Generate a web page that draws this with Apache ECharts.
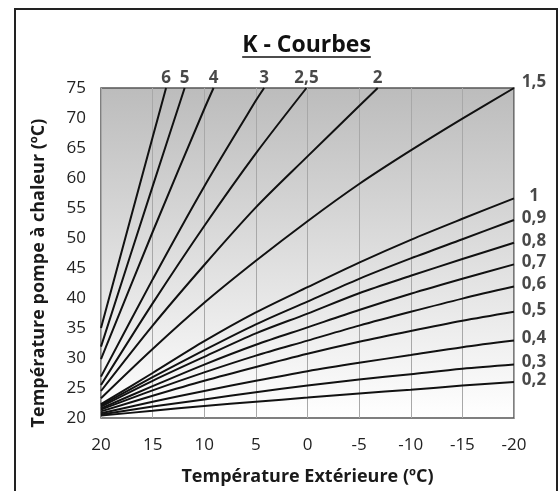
<!DOCTYPE html>
<html>
<head>
<meta charset="utf-8">
<script src="https://cdn.jsdelivr.net/npm/echarts@6/dist/echarts.min.js"></script>
<style>
html,body{margin:0;padding:0;background:#fff;}
#chart{width:559px;height:491px;}
</style>
</head>
<body>
<div id="chart"></div>
<script>
// ---- data (outdoor temp °C, flow temp °C) ----
const curveNames = ['6', '5', '4', '3', '2,5', '2', '1,5', '1', '0,9', '0,8', '0,7', '0,6', '0,5', '0,4', '0,3', '0,2'];

const k6  = [[20, 35.0], [15, 66.8], [13.7, 75]];
const k5  = [[20, 31.9], [15, 58.6], [11.9, 75]];
const k4  = [[20, 29.8], [15, 51.0], [10, 71.5], [9.1, 75]];
const k3  = [[20, 26.9], [15, 43.1], [10, 58.6], [5, 72.9], [4.2, 75]];
const k25 = [[20, 25.5], [15, 39.1], [10, 52.0], [5, 64.1], [0.1, 75]];
const k2  = [[20, 24.5], [15, 35.4], [10, 45.5], [5, 55.1], [0, 63.6], [-5, 72.0], [-6.8, 75]];
const k15 = [[20, 23.3], [15, 31.5], [10, 39.2], [5, 46.2], [0, 52.8], [-5, 59.0], [-10, 64.6], [-15, 69.9], [-20, 75]];
const k1  = [[20, 22.3], [15, 27.5], [10, 32.8], [5, 37.6], [0, 41.8], [-5, 45.9], [-10, 49.7], [-15, 53.2], [-20, 56.6]];
const k09 = [[20, 22.1], [15, 26.8], [10, 31.3], [5, 35.6], [0, 39.4], [-5, 43.2], [-10, 46.6], [-15, 49.8], [-20, 53.0]];
const k08 = [[20, 21.9], [15, 26.2], [10, 30.2], [5, 34.1], [0, 37.4], [-5, 40.8], [-10, 43.7], [-15, 46.5], [-20, 49.2]];
const k07 = [[20, 21.6], [15, 25.3], [10, 28.9], [5, 32.2], [0, 35.1], [-5, 38.0], [-10, 40.7], [-15, 43.2], [-20, 45.6]];
const k06 = [[20, 21.4], [15, 24.6], [10, 27.6], [5, 30.4], [0, 32.9], [-5, 35.4], [-10, 37.7], [-15, 39.9], [-20, 41.9]];
const k05 = [[20, 21.1], [15, 23.7], [10, 26.2], [5, 28.5], [0, 30.7], [-5, 32.7], [-10, 34.5], [-15, 36.2], [-20, 37.7]];
const k04 = [[20, 20.8], [15, 22.7], [10, 24.5], [5, 26.2], [0, 27.8], [-5, 29.2], [-10, 30.5], [-15, 31.8], [-20, 32.9]];
const k03 = [[20, 20.6], [15, 21.9], [10, 23.1], [5, 24.3], [0, 25.4], [-5, 26.4], [-10, 27.3], [-15, 28.2], [-20, 28.9]];
const k02 = [[20, 20.4], [15, 21.2], [10, 22.0], [5, 22.7], [0, 23.4], [-5, 24.1], [-10, 24.7], [-15, 25.4], [-20, 26.0]];

const curves = [k6, k5, k4, k3, k25, k2, k15, k1, k09, k08, k07, k06, k05, k04, k03, k02];

const xMin = -20, xMax = 20, xStep = 5;
const yMin = 20, yMax = 75, yStep = 5;

const titleText = 'K - Courbes';
const xName = 'Température Extérieure (ºC)';
const yName = 'Température pompe à chaleur (ºC)';

// ---- build chart ----
const FONT = 'Open Sans';
const TITLE_SIZE = 23;
const chart = echarts.init(document.getElementById('chart'), null, {renderer: 'canvas'});

const lineSeries = curves.map((pts, i) => ({
  name: curveNames[i],
  type: 'line',
  data: pts,
  showSymbol: false,
  smooth: 0.3,
  silent: true,
  lineStyle: {color: '#111', width: 2},
  z: 3
}));

// label anchors = last point of each curve
const topLabels = [];
const rightLabels = [];
curves.forEach((pts, i) => {
  const last = pts[pts.length - 1];
  const item = {value: last, name: curveNames[i]};
  if (last[1] >= yMax && last[0] > xMin) {
    topLabels.push(item);
  } else {
    if (last[1] >= yMax) item.label = {position: [20, -6]};
    rightLabels.push(item);
  }
});

const labelFont = {fontFamily: FONT, fontWeight: 'bold', fontSize: 17, color: '#1a1a1a'};

const ctx = document.createElement('canvas').getContext('2d');
ctx.font = 'bold ' + TITLE_SIZE + 'px "' + FONT + '"';
const tw = ctx.measureText(titleText).width;

const option = {
  animation: false,
  backgroundColor: '#fff',
  grid: {
    left: 101, right: 45, top: 88, bottom: 73,
    show: true,
    borderColor: '#555',
    borderWidth: 1.5,
    backgroundColor: {
      type: 'linear', x: 0, y: 0, x2: 0, y2: 1,
      colorStops: [{offset: 0, color: '#bcbcbc'}, {offset: 1, color: '#ffffff'}]
    }
  },
  xAxis: {
    type: 'value', min: xMin, max: xMax, interval: xStep, inverse: true,
    name: xName, nameLocation: 'middle', nameGap: 50,
    nameTextStyle: {fontFamily: FONT, fontWeight: 'bold', fontSize: 18, color: '#1a1a1a'},
    axisLine: {show: false}, axisTick: {show: false},
    axisLabel: {fontFamily: FONT, fontSize: 17, color: '#222', margin: 19},
    splitLine: {show: true, lineStyle: {color: '#a8a8a8', width: 1}}
  },
  yAxis: {
    type: 'value', min: yMin, max: yMax, interval: yStep,
    axisLine: {show: false}, axisTick: {show: false},
    axisLabel: {fontFamily: FONT, fontSize: 17, color: '#222', margin: 15},
    splitLine: {show: false}
  },
  graphic: [
    {type: 'rect', shape: {x: 15, y: 9, width: 542, height: 500}, style: {fill: 'none', stroke: '#222', lineWidth: 2}, z: 0},
    {type: 'text', x: 306.5, y: 45, style: {text: titleText, fontFamily: FONT, fontWeight: 'bold', fontSize: TITLE_SIZE, fill: '#111', align: 'center', verticalAlign: 'middle'}, z: 10},
    {type: 'line', shape: {x1: 306.5 - tw / 2, y1: 57, x2: 306.5 + tw / 2, y2: 57}, style: {stroke: '#111', lineWidth: 1.5}, z: 10},
    {type: 'text', x: 39, y: 273, rotation: Math.PI / 2, style: {text: yName, fontFamily: FONT, fontWeight: 'bold', fontSize: 18, fill: '#1a1a1a', align: 'center', verticalAlign: 'middle'}, z: 10}
  ],
  series: lineSeries.concat([
    {
      type: 'scatter', data: topLabels, symbolSize: 0, clip: false, silent: true, z: 5,
      label: Object.assign({show: true, position: 'top', distance: 1, formatter: p => p.name}, labelFont)
    },
    {
      type: 'scatter', data: rightLabels, symbolSize: 0, clip: false, silent: true, z: 5,
      label: Object.assign({show: true, position: [20, -2], align: 'center', verticalAlign: 'middle', formatter: p => p.name}, labelFont)
    }
  ])
};
chart.setOption(option);
</script>
</body>
</html>
